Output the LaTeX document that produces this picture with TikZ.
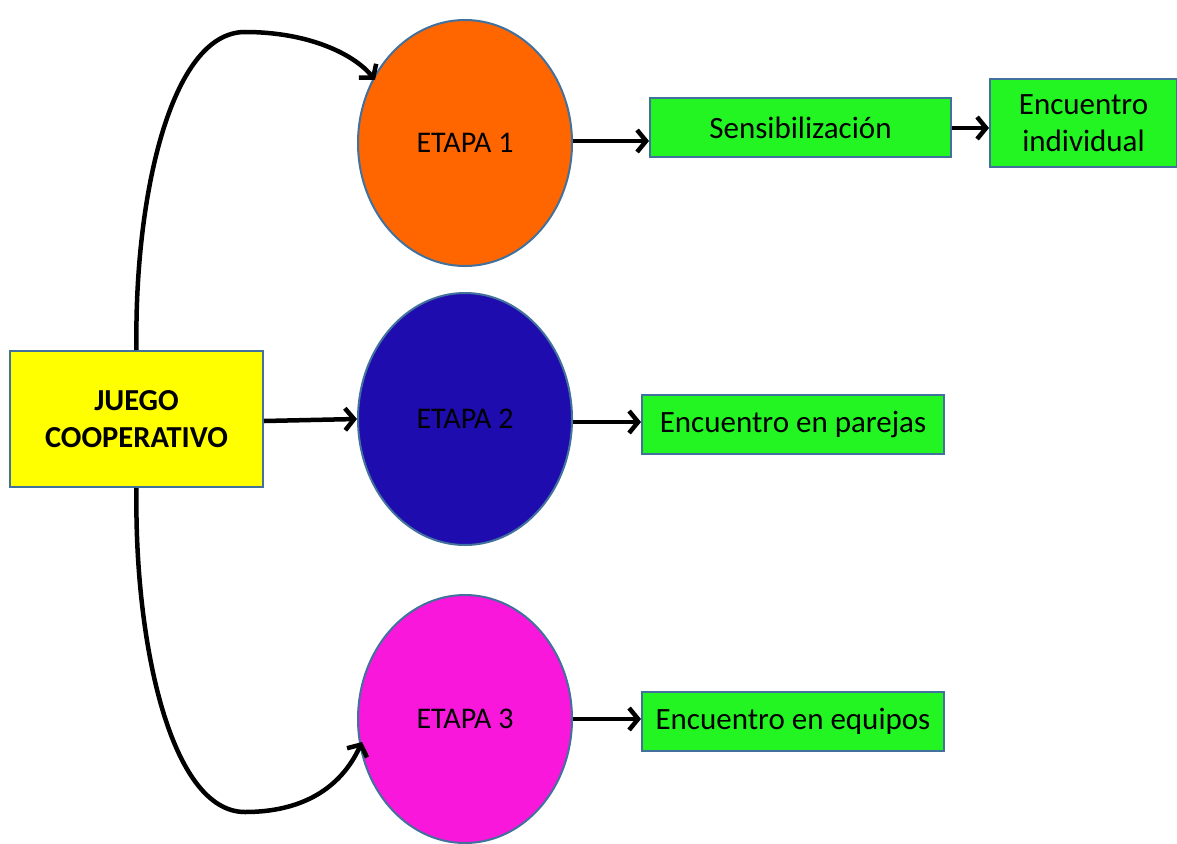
\documentclass[tikz,border=0pt]{standalone}
\usepackage{fontspec}
\setmainfont{Carlito}
\usetikzlibrary{arrows.meta,shapes.geometric}
\definecolor{edgeblue}{HTML}{41719C}
\definecolor{orng}{HTML}{FF6600}
\definecolor{dblue}{HTML}{1E0CAF}
\definecolor{mgnt}{HTML}{F917DC}
\definecolor{grn}{HTML}{22F522}
\definecolor{ylw}{HTML}{FFFF00}
\tikzset{
  stage/.style={ellipse, draw=edgeblue, line width=2pt, minimum width=214pt, minimum height=246pt, inner sep=0pt, font=\fontsize{30}{36}\selectfont},
  gbox/.style={rectangle, draw=edgeblue, line width=2pt, fill=grn, inner sep=0pt, font=\fontsize{31}{37}\selectfont, align=center},
  conn/.style={line width=4.5pt, -{Straight Barb[length=9pt,width=22pt,line width=4.5pt]}}
}
\begin{document}
\begin{tikzpicture}[x=1pt,y=-1pt]
\useasboundingbox (0,0) rectangle (1177,843);
\node[rectangle, draw=edgeblue, line width=2pt, fill=ylw, minimum width=253pt, minimum height=136pt, inner sep=0pt, align=center, font=\bfseries\fontsize{30.5}{37}\selectfont] (juego) at (136.5,419) {JUEGO\\COOPERATIVO};
\node[stage, fill=orng] (e1) at (465,143) {ETAPA 1};
\node[stage, fill=dblue, minimum height=252pt] (e2) at (465,419) {ETAPA 2};
\node[stage, fill=mgnt, minimum height=248pt] (e3) at (465,719) {ETAPA 3};
\node[gbox, minimum width=301pt, minimum height=59pt] (sens) at (800.5,127.5) {Sensibilización};
\node[gbox, minimum width=187pt, minimum height=88pt] (indiv) at (1083.5,123) {Encuentro\\individual};
\node[gbox, minimum width=302pt, minimum height=59pt] (parejas) at (793,424.5) {Encuentro en parejas};
\node[gbox, minimum width=302pt, minimum height=59pt] (equipos) at (793,721.5) {Encuentro en equipos};
\draw[conn] (e1.east |- 0,141) -- (sens.west |- 0,141);
\draw[conn] (sens.east |- 0,128) -- (indiv.west |- 0,128);
\draw[conn] (juego.east |- 0,421) -- (e2.west |- 0,419);
\draw[conn] (e2.east |- 0,422) -- (parejas.west |- 0,422);
\draw[conn] (e3.east |- 0,719) -- (equipos.west |- 0,719);
\coordinate (t1) at (375,80);
\coordinate (b1) at (362,742);
\draw[conn] (juego.north) .. controls (134,200) and (170,32) .. (245,32) .. controls (310,32) and (355,55) .. (t1);
\draw[conn] (juego.south) .. controls (134,640) and (170,812) .. (245,812) .. controls (300,812) and (340,790) .. (b1);
\end{tikzpicture}
\end{document}
